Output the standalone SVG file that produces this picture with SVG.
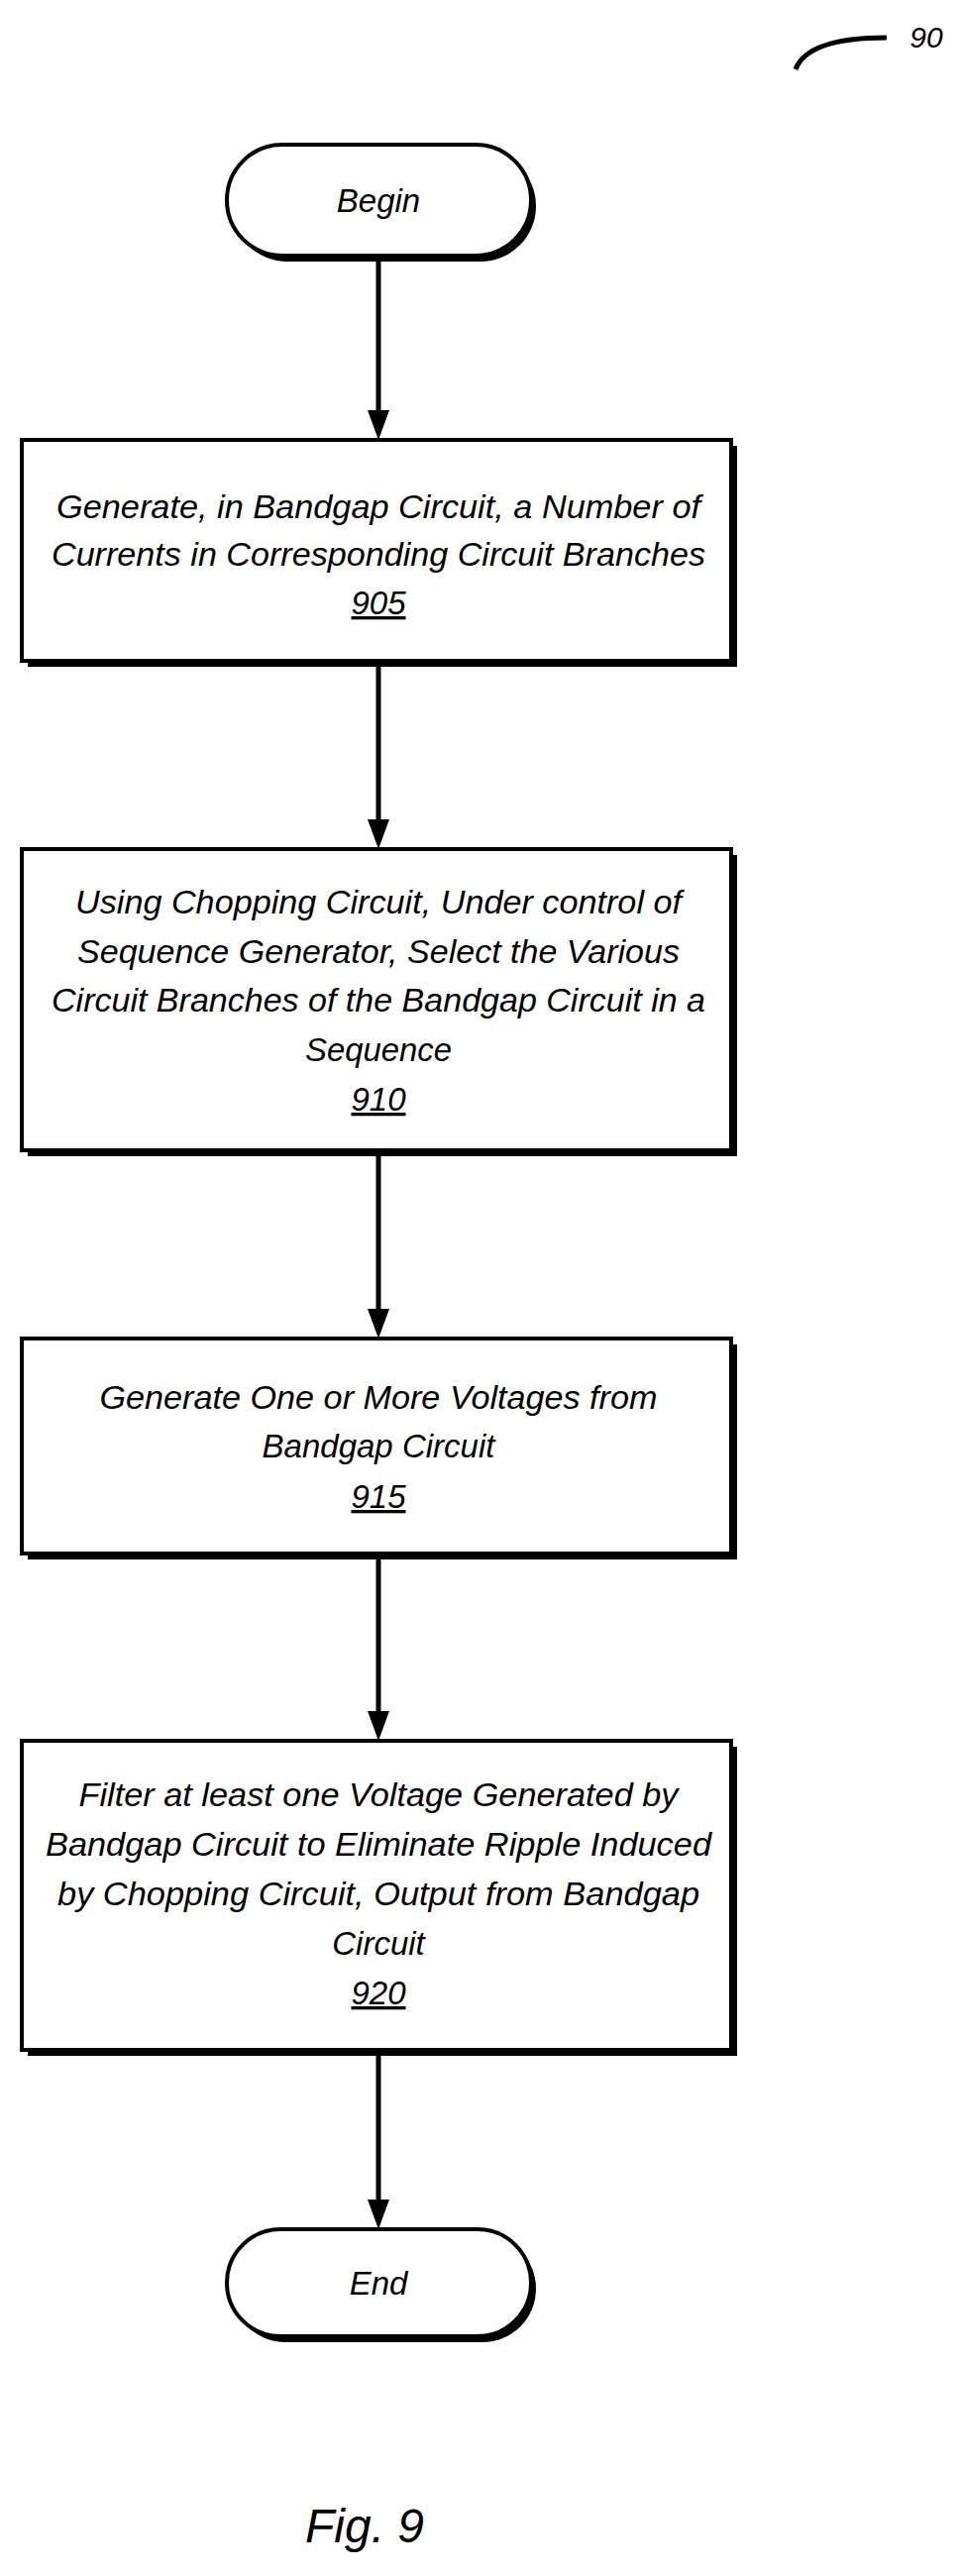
<svg xmlns="http://www.w3.org/2000/svg" width="970" height="2600" viewBox="0 0 970 2600">
<style>
.b{fill:#fff;stroke:#000;stroke-width:4}
.s{fill:#000}
text{font-family:"Liberation Sans",Arial,sans-serif;font-style:italic;font-size:33px;fill:#000;text-anchor:middle}
.c{stroke:#000;stroke-width:5;fill:none}
</style>
<defs><marker id="ah" markerWidth="30" markerHeight="22" refX="20" refY="11" orient="auto" markerUnits="userSpaceOnUse" viewBox="0 0 30 22"><path d="M0,0L30,11L0,22z"/></marker></defs>
<path class="c" d="M803,70 Q815,38 895,38" stroke-width="2.5"/>
<text x="935" y="48" style="font-size:30px">90</text>
<g id="connectors">
<line class="c" x1="382" y1="259" x2="382" y2="434" marker-end="url(#ah)"/>
<line class="c" x1="382" y1="667" x2="382" y2="847" marker-end="url(#ah)"/>
<line class="c" x1="382" y1="1161" x2="382" y2="1341" marker-end="url(#ah)"/>
<line class="c" x1="382" y1="1568" x2="382" y2="1747" marker-end="url(#ah)"/>
<line class="c" x1="382" y1="2069" x2="382" y2="2240" marker-end="url(#ah)"/>
</g>
<g id="begin"><rect class="s" x="234" y="152" width="307" height="112" rx="56"/><rect class="b" x="229" y="146" width="307" height="112" rx="56"/><text x="382" y="214">Begin</text></g>
<g id="n905"><rect class="s" x="28" y="450" width="716" height="223"/><rect class="b" x="22" y="444" width="716" height="223"/>
<text x="382" y="523" textLength="650" lengthAdjust="spacingAndGlyphs">Generate, in Bandgap Circuit, a Number of</text>
<text x="382" y="571" textLength="660" lengthAdjust="spacingAndGlyphs">Currents in Corresponding Circuit Branches</text>
<text x="382" y="620" text-decoration="underline">905</text></g>
<g id="n910"><rect class="s" x="28" y="863" width="716" height="304"/><rect class="b" x="22" y="857" width="716" height="304"/>
<text x="382" y="922" textLength="612" lengthAdjust="spacingAndGlyphs">Using Chopping Circuit, Under control of</text>
<text x="382" y="972" textLength="608" lengthAdjust="spacingAndGlyphs">Sequence Generator, Select the Various</text>
<text x="382" y="1021" textLength="660" lengthAdjust="spacingAndGlyphs">Circuit Branches of the Bandgap Circuit in a</text>
<text x="382" y="1071" textLength="148" lengthAdjust="spacingAndGlyphs">Sequence</text>
<text x="382" y="1121" text-decoration="underline">910</text></g>
<g id="n915"><rect class="s" x="28" y="1357" width="716" height="217"/><rect class="b" x="22" y="1351" width="716" height="217"/>
<text x="382" y="1422" textLength="563" lengthAdjust="spacingAndGlyphs">Generate One or More Voltages from</text>
<text x="382" y="1471">Bandgap Circuit</text>
<text x="382" y="1522" text-decoration="underline">915</text></g>
<g id="n920"><rect class="s" x="28" y="1763" width="716" height="312"/><rect class="b" x="22" y="1757" width="716" height="312"/>
<text x="382" y="1823" textLength="605" lengthAdjust="spacingAndGlyphs">Filter at least one Voltage Generated by</text>
<text x="382" y="1873" textLength="672" lengthAdjust="spacingAndGlyphs">Bandgap Circuit to Eliminate Ripple Induced</text>
<text x="382" y="1923" textLength="648" lengthAdjust="spacingAndGlyphs">by Chopping Circuit, Output from Bandgap</text>
<text x="382" y="1973">Circuit</text>
<text x="382" y="2023" text-decoration="underline">920</text></g>
<g id="end"><rect class="s" x="234" y="2256" width="307" height="108" rx="54"/><rect class="b" x="229" y="2250" width="307" height="108" rx="54"/><text x="382" y="2316">End</text></g>
<text x="368" y="2566" style="font-size:48px">Fig. 9</text>
</svg>
